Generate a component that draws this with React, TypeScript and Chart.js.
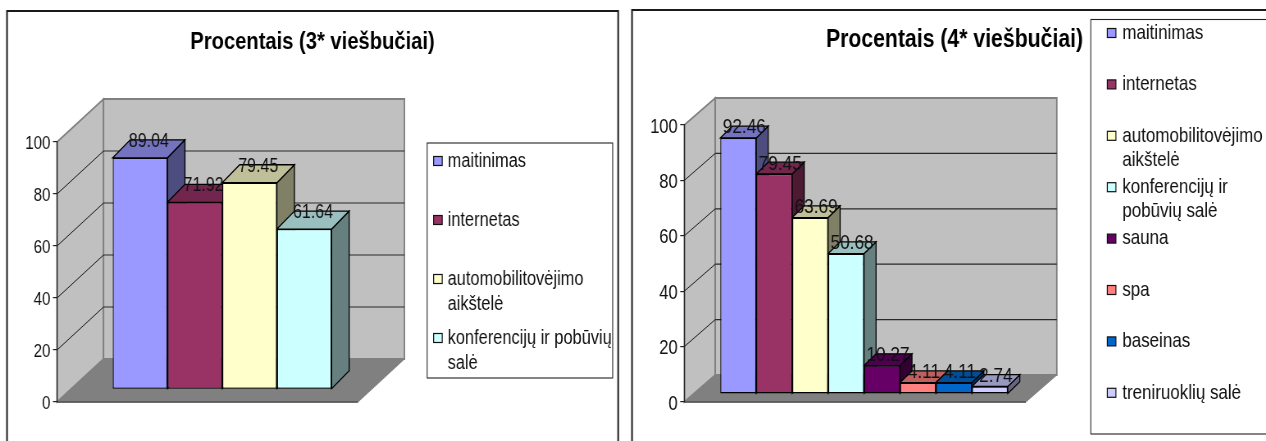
import React, { useEffect, useRef } from "react";
import { Chart, registerables } from "chart.js";

Chart.register(...registerables);

const CATEGORY = ["Procentais"];
const TITLE_3 = "Procentais (3* viešbučiai)";
const TITLE_4 = "Procentais (4* viešbučiai)";
const SERIES_3 = ["maitinimas", "internetas", "automobilitovėjimo aikštelė", "konferencijų ir pobūvių salė"];
const VALUES_3 = [89.04, 71.92, 79.45, 61.64];
const SERIES_4 = [
  "maitinimas",
  "internetas",
  "automobilitovėjimo aikštelė",
  "konferencijų ir pobūvių salė",
  "sauna",
  "spa",
  "baseinas",
  "treniruoklių salė",
];
const VALUES_4 = [92.46, 79.45, 63.69, 50.68, 10.27, 4.11, 4.11, 2.74];
const COLORS = ["#9999FF", "#993366", "#FFFFCC", "#CCFFFF", "#660066", "#FF8080", "#0066CC", "#CCCCFF"];
const TICK_MAX = 100;
const TICK_STEP = 20;

const FONT = '"Liberation Sans", Arial, sans-serif';
// Each canvas is drawn wider than it is shown, which gives the narrow lettering.
const SQUEEZE = 0.82;
const HEIGHT = 441;

type Panel = {
  title: string;
  series: string[];
  values: number[];
  canvasLeft: number;
  canvasWidth: number;
  frame: { left: number; top: number; right: number | null };
  area: { left: number; right: number; top: number; bottom: number };
  titleY: number;
  titleSize: number;
  tickSize: number;
  valueSize: number;
  legendSize: number;
  wall: { dx: number; dy: number };
  bars: { dx: number; dy: number; depth: number; rise: number; span: number };
  legend: {
    left: number;
    top: number;
    right: number;
    bottom: number;
    swatchX: number;
    textX: number;
    firstY: number;
    pitch: number;
    lineHeight: number;
    wrap: number;
  };
};

const PANEL_3: Panel = {
  title: TITLE_3,
  series: SERIES_3,
  values: VALUES_3,
  canvasLeft: 0,
  canvasWidth: 625,
  frame: { left: 7, top: 11, right: 618 },
  area: { left: 57, right: 358, top: 142, bottom: 402 },
  titleY: 42.5,
  titleSize: 24.6,
  tickSize: 18.5,
  valueSize: 19.5,
  legendSize: 20,
  wall: { dx: 46.5, dy: 43 },
  bars: { dx: 14.7, dy: 12.7, depth: 17.5, rise: 18, span: 219 / 301 },
  legend: {
    left: 427,
    top: 143,
    right: 612.5,
    bottom: 378,
    swatchX: 433.5,
    textX: 447.5,
    firstY: 161,
    pitch: 59,
    lineHeight: 25.5,
    wrap: 166,
  },
};

const PANEL_4: Panel = {
  title: TITLE_4,
  series: SERIES_4,
  values: VALUES_4,
  canvasLeft: 625,
  canvasWidth: 659,
  frame: { left: 632, top: 10, right: null },
  area: { left: 684.3, right: 1025.7, top: 125, bottom: 402 },
  titleY: 40,
  titleSize: 25.9,
  tickSize: 20.2,
  valueSize: 21,
  legendSize: 20.7,
  wall: { dx: 31, dy: 27 },
  bars: { dx: 9, dy: 8, depth: 12, rise: 11.7, span: 287.4 / 341.4 },
  legend: {
    left: 1091,
    top: 19.5,
    right: 1290,
    bottom: 434,
    swatchX: 1107.5,
    textX: 1122.5,
    firstY: 33,
    pitch: 51.4,
    lineHeight: 24,
    wrap: 140,
  },
};

function shade(hex: string, factor: number): string {
  const n = parseInt(hex.slice(1), 16);
  const part = (shift: number) => Math.round(((n >> shift) & 255) * factor);
  return `rgb(${part(16)},${part(8)},${part(0)})`;
}

function poly(ctx: CanvasRenderingContext2D, pts: number[][], fill: string, stroke: string, width: number) {
  ctx.beginPath();
  pts.forEach(([x, y], i) => (i ? ctx.lineTo(x, y) : ctx.moveTo(x, y)));
  ctx.closePath();
  ctx.fillStyle = fill;
  ctx.fill();
  ctx.lineWidth = width;
  ctx.strokeStyle = stroke;
  ctx.stroke();
}

function line(ctx: CanvasRenderingContext2D, x1: number, y1: number, x2: number, y2: number, stroke: string, width: number) {
  ctx.beginPath();
  ctx.moveTo(x1, y1);
  ctx.lineTo(x2, y2);
  ctx.lineWidth = width;
  ctx.strokeStyle = stroke;
  ctx.stroke();
}

function wrapWords(ctx: CanvasRenderingContext2D, text: string, limit: number): string[] {
  const lines: string[] = [];
  let current = "";
  for (const word of text.split(" ")) {
    const next = current ? `${current} ${word}` : word;
    if (current && ctx.measureText(next).width > limit) {
      lines.push(current);
      current = word;
    } else {
      current = next;
    }
  }
  lines.push(current);
  return lines;
}

// Page x to canvas x, and page width to canvas width.
const toX = (p: Panel, x: number) => (x - p.canvasLeft) / SQUEEZE;
const toW = (w: number) => w / SQUEEZE;

// Frame, floor and walls of the box behind the bars, laid out from the value scale.
const boxPlugin = (p: Panel) => ({
  id: "box",
  beforeDraw(chart: any) {
    const { ctx, chartArea: a, scales } = chart;
    const dx = toW(p.wall.dx);
    const dy = p.wall.dy;
    const y = scales.y;
    ctx.save();
    const fx = toX(p, p.frame.left);
    const fr = p.frame.right === null ? chart.width : toX(p, p.frame.right);
    ctx.beginPath();
    ctx.moveTo(fx, HEIGHT);
    ctx.lineTo(fx, p.frame.top);
    ctx.lineTo(fr, p.frame.top);
    if (p.frame.right !== null) ctx.lineTo(fr, HEIGHT);
    ctx.strokeStyle = "#1a1a1a";
    ctx.lineWidth = 2;
    ctx.stroke();

    const top = y.getPixelForValue(TICK_MAX);
    const bottom = y.getPixelForValue(0);
    poly(ctx, [[a.left, top], [a.left + dx, top - dy], [a.left + dx, bottom - dy], [a.left, bottom]], "#C0C0C0", "#808080", 1.8);
    poly(ctx, [[a.left + dx, top - dy], [a.right + dx, top - dy], [a.right + dx, bottom - dy], [a.left + dx, bottom - dy]], "#C0C0C0", "#808080", 1.8);
    poly(ctx, [[a.left, bottom], [a.left + dx, bottom - dy], [a.right + dx, bottom - dy], [a.right, bottom]], "#808080", "#808080", 1);
    line(ctx, a.left, bottom, a.right, bottom, "#505050", 1.6);

    for (const tick of y.ticks) {
      if (tick.value === 0 || tick.value === TICK_MAX) continue;
      const py = y.getPixelForValue(tick.value);
      line(ctx, a.left, py, a.left + dx, py - dy, "#1a1a1a", 1);
      line(ctx, a.left + dx, py - dy, a.right + dx, py - dy, "#2a2a2a", 1.2);
    }
    ctx.restore();
  },
});

// Bars sit a little behind the front plane; top and side faces go down first so the
// native front faces cover them, and value captions come last.
const barsPlugin = (p: Panel) => ({
  id: "bars3d",
  beforeDatasetsDraw(chart: any) {
    const { ctx } = chart;
    const depth = toW(p.bars.depth);
    const rise = p.bars.rise;
    ctx.save();
    ctx.translate(toW(p.bars.dx), -p.bars.dy);
    p.values.forEach((_, i) => {
      const bar = chart.getDatasetMeta(i).data[0];
      const l = bar.x - bar.width / 2;
      const r = bar.x + bar.width / 2;
      const t = bar.y;
      const b = bar.base;
      const color = COLORS[i];
      poly(ctx, [[r, t], [r + depth, t - rise], [r + depth, b - rise], [r, b]], shade(color, 0.5), "#000", 1.3);
      poly(ctx, [[l, t], [l + depth, t - rise], [r + depth, t - rise], [r, t]], shade(color, 0.75), "#000", 1.3);
    });
  },
  afterDatasetsDraw(chart: any) {
    const { ctx } = chart;
    ctx.restore();
    ctx.save();
    ctx.font = `${p.valueSize}px ${FONT}`;
    ctx.fillStyle = "#111";
    ctx.textAlign = "center";
    ctx.textBaseline = "middle";
    p.values.forEach((value, i) => {
      const bar = chart.getDatasetMeta(i).data[0];
      const x = bar.x + toW(p.bars.dx) + toW(p.bars.depth) / 2;
      ctx.fillText(value.toFixed(2), x, bar.y - p.bars.dy - p.bars.rise + 1.5);
    });
    ctx.restore();
  },
});

// Boxed key at the side with word-wrapped series names.
const keyPlugin = (p: Panel) => ({
  id: "key",
  afterDraw(chart: any) {
    const { ctx } = chart;
    const k = p.legend;
    const boxX = toX(p, k.left);
    const boxW = toW(k.right - k.left);
    const swX = toX(p, k.swatchX);
    const swW = toW(8.6);
    ctx.save();
    ctx.fillStyle = "#fff";
    ctx.strokeStyle = "#222";
    ctx.lineWidth = 1.1;
    ctx.fillRect(boxX, k.top, boxW, k.bottom - k.top);
    ctx.strokeRect(boxX, k.top, boxW, k.bottom - k.top);
    ctx.font = `${p.legendSize}px ${FONT}`;
    ctx.textBaseline = "middle";
    ctx.textAlign = "left";
    chart.data.datasets.forEach((ds: any, i: number) => {
      const y = k.firstY + i * k.pitch;
      ctx.fillStyle = ds.backgroundColor;
      ctx.fillRect(swX, y - 4.5, swW, 9);
      ctx.strokeStyle = "#111";
      ctx.lineWidth = 1.2;
      ctx.strokeRect(swX, y - 4.5, swW, 9);
      ctx.fillStyle = "#111";
      wrapWords(ctx, ds.label, toW(k.wrap)).forEach((text, n) => {
        ctx.fillText(text, toX(p, k.textX), y + n * k.lineHeight);
      });
    });
    ctx.restore();
  },
});

function buildConfig(p: Panel): any {
  const titleLine = p.titleSize * 1.2;
  const canvasW = toW(p.canvasWidth);
  return {
    type: "bar",
    data: {
      labels: CATEGORY,
      datasets: p.series.map((label, i) => ({
        label,
        data: [p.values[i]],
        yAxisID: "y",
        backgroundColor: COLORS[i],
        borderColor: "#000",
        borderWidth: 1.3,
        borderSkipped: false,
        categoryPercentage: p.bars.span,
        barPercentage: 1,
        clip: false,
      })),
    },
    plugins: [boxPlugin(p), barsPlugin(p), keyPlugin(p)],
    options: {
      responsive: false,
      animation: false,
      devicePixelRatio: 1,
      events: [],
      layout: { padding: { bottom: HEIGHT - p.area.bottom } },
      plugins: {
        legend: { display: false },
        tooltip: { enabled: false },
        title: {
          display: true,
          text: p.title,
          color: "#000",
          font: { family: FONT, size: p.titleSize, weight: "bold" },
          padding: {
            top: p.titleY - titleLine / 2,
            bottom: p.area.top - p.titleY - titleLine / 2,
          },
        },
      },
      scales: {
        x: { display: false },
        y: {
          position: "left",
          min: 0,
          max: TICK_MAX,
          afterFit(scale: any) {
            scale.width = toX(p, p.area.left);
          },
          ticks: {
            stepSize: TICK_STEP,
            padding: 3,
            color: "#111",
            // A leading empty line with a 4px line height nudges each number 2px down.
            callback: (value: number) => ["", String(value)],
            font: { family: FONT, size: p.tickSize, lineHeight: "4px" },
          },
          grid: { drawOnChartArea: false, tickLength: 5, color: "#222", lineWidth: 1.2 },
          border: { color: "#222", width: 1.2 },
        },
        // Empty axis that reserves the room on the right for the key.
        keyRoom: {
          position: "right",
          min: 0,
          max: TICK_MAX,
          afterFit(scale: any) {
            scale.width = canvasW - toX(p, p.area.right);
          },
          ticks: { display: false },
          grid: { display: false },
          border: { display: false },
        },
      },
    },
  };
}

function PanelChart({ panel }: { panel: Panel }) {
  const ref = useRef<HTMLCanvasElement | null>(null);
  useEffect(() => {
    const chart = new Chart(ref.current as HTMLCanvasElement, buildConfig(panel));
    return () => chart.destroy();
  }, [panel]);
  return (
    <canvas
      ref={ref}
      width={Math.round(toW(panel.canvasWidth))}
      height={HEIGHT}
      style={{ position: "absolute", left: panel.canvasLeft, top: 0, width: panel.canvasWidth, height: HEIGHT }}
    />
  );
}

export default function App() {
  return (
    <div style={{ position: "fixed", left: 0, top: 0, width: 1266, height: HEIGHT, overflow: "hidden", background: "#fff" }}>
      <PanelChart panel={PANEL_3} />
      <PanelChart panel={PANEL_4} />
    </div>
  );
}
